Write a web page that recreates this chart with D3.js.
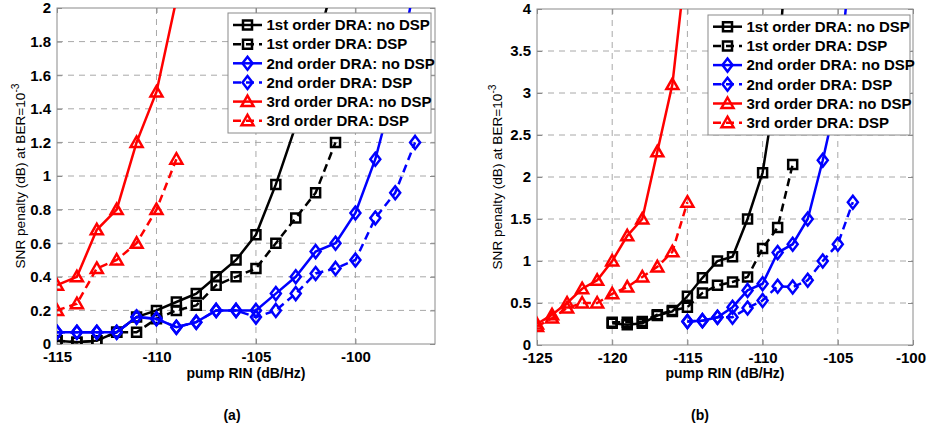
<!DOCTYPE html>
<html>
<head>
<meta charset="utf-8">
<script src="https://cdn.jsdelivr.net/npm/d3@7"></script>
<style>
  body { margin: 0; background: #fff; }
  svg { display: block; }
  text { font-family: "Liberation Sans", Arial, sans-serif; fill: #000; }
</style>
</head>
<body>
<svg id="fig" width="927" height="427"></svg>
<script>
// ---------- panel (a): pump RIN sweep, SNR penalty at BER = 1e-3 ----------
const rinA_1st = [-115, -114, -113, -112, -111, -110, -109, -108, -107, -106, -105, -104, -103, -102, -101];
const penA_1st_noDSP = [0.02, 0.01, 0.02, 0.07, 0.16, 0.2, 0.25, 0.3, 0.4, 0.5, 0.65, 0.95, 1.3, 1.75, 2.2];
const penA_1st_DSP   = [0.02, 0.01, 0.02, 0.07, 0.07, 0.15, 0.2, 0.23, 0.35, 0.4, 0.45, 0.6, 0.75, 0.9, 1.2];

const rinA_2nd = [-115, -114, -113, -112, -111, -110, -109, -108, -107, -106, -105, -104, -103, -102, -101, -100, -99, -98, -97];
const penA_2nd_noDSP = [0.07, 0.07, 0.07, 0.07, 0.16, 0.15, 0.1, 0.13, 0.2, 0.2, 0.2, 0.3, 0.4, 0.55, 0.6, 0.78, 1.1, 1.55, 2.15];
const penA_2nd_DSP   = [0.07, 0.07, 0.07, 0.07, 0.16, 0.15, 0.1, 0.13, 0.2, 0.2, 0.16, 0.2, 0.3, 0.42, 0.45, 0.5, 0.75, 0.9, 1.2];

const rinA_3rd_noDSP = [-115, -114, -113, -112, -111, -110, -109];
const penA_3rd_noDSP = [0.35, 0.4, 0.68, 0.8, 1.2, 1.5, 2.05];
const rinA_3rd_DSP = [-115, -114, -113, -112, -111, -110, -109];
const penA_3rd_DSP = [0.2, 0.24, 0.45, 0.5, 0.6, 0.8, 1.1];

const xTicksA = [-115, -110, -105, -100];
const yTicksA = [0, 0.2, 0.4, 0.6, 0.8, 1, 1.2, 1.4, 1.6, 1.8, 2];

// ---------- panel (b) ----------
const rinB_1st = [-120, -119, -118, -117, -116, -115, -114, -113, -112, -111, -110, -109, -108];
const penB_1st_noDSP = [0.26, 0.24, 0.26, 0.35, 0.4, 0.58, 0.8, 1.0, 1.05, 1.5, 2.05, 3.2, 5.7];
const penB_1st_DSP   = [0.27, 0.27, 0.28, 0.36, 0.41, 0.45, 0.62, 0.71, 0.75, 0.81, 1.15, 1.4, 2.15];

const rinB_2nd = [-115, -114, -113, -112, -111, -110, -109, -108, -107, -106, -105, -104];
const penB_2nd_noDSP = [0.28, 0.29, 0.33, 0.45, 0.65, 0.73, 1.1, 1.2, 1.5, 2.2, 3.0, 4.9];
const penB_2nd_DSP   = [0.28, 0.29, 0.33, 0.33, 0.44, 0.53, 0.7, 0.69, 0.77, 1.0, 1.2, 1.7];

const rinB_3rd = [-125, -124, -123, -122, -121, -120, -119, -118, -117, -116, -115];
const penB_3rd_noDSP = [0.25, 0.36, 0.5, 0.67, 0.77, 1.0, 1.3, 1.5, 2.3, 3.1, 4.7];
const penB_3rd_DSP   = [0.22, 0.32, 0.44, 0.5, 0.5, 0.61, 0.69, 0.81, 0.93, 1.11, 1.7];

const xTicksB = [-125, -120, -115, -110, -105, -100];
const yTicksB = [0, 0.5, 1, 1.5, 2, 2.5, 3, 3.5, 4];

const legendLabels = [
  "1st order DRA: no DSP", "1st order DRA: DSP",
  "2nd order DRA: no DSP", "2nd order DRA: DSP",
  "3rd order DRA: no DSP", "3rd order DRA: DSP"
];
const xLabel = "pump RIN (dB/Hz)";

// ---------- styling shared by all curves ----------
const seriesStyle = [
  { color: "#000000", dashed: false, marker: "square" },
  { color: "#000000", dashed: true,  marker: "square" },
  { color: "#0000ff", dashed: false, marker: "diamond" },
  { color: "#0000ff", dashed: true,  marker: "diamond" },
  { color: "#ff0000", dashed: false, marker: "triangle" },
  { color: "#ff0000", dashed: true,  marker: "triangle" }
];

const zip = (xs, ys) => xs.map((x, i) => ({ x, y: ys[i] }));

const panels = [
  {
    id: "a", caption: "(a)", captionX: 232,
    box: { left: 57, right: 435, top: 8, bottom: 344 },
    xDomain: [-115, -96], yDomain: [0, 2],
    xTicks: xTicksA, yTicks: yTicksA,
    ylabelX: 20,
    legend: { x0: 228, x1: 431, y0: 13, y1: 133, row0: 25, step: 19.15 },
    series: [
      zip(rinA_1st, penA_1st_noDSP), zip(rinA_1st, penA_1st_DSP),
      zip(rinA_2nd, penA_2nd_noDSP), zip(rinA_2nd, penA_2nd_DSP),
      zip(rinA_3rd_noDSP, penA_3rd_noDSP), zip(rinA_3rd_DSP, penA_3rd_DSP)
    ]
  },
  {
    id: "b", caption: "(b)", captionX: 700,
    box: { left: 537, right: 913, top: 9, bottom: 345 },
    xDomain: [-125, -100], yDomain: [0, 4],
    xTicks: xTicksB, yTicks: yTicksB,
    ylabelX: 497,
    legend: { x0: 708, x1: 910, y0: 15, y1: 135, row0: 26.7, step: 19.2 },
    series: [
      zip(rinB_1st, penB_1st_noDSP), zip(rinB_1st, penB_1st_DSP),
      zip(rinB_2nd, penB_2nd_noDSP), zip(rinB_2nd, penB_2nd_DSP),
      zip(rinB_3rd, penB_3rd_noDSP), zip(rinB_3rd, penB_3rd_DSP)
    ]
  }
];

const W = 927, H = 427;
const svg = d3.select("#fig");
svg.append("rect").attr("width", W).attr("height", H).attr("fill", "#fff");

const frameColor = "#8a8a8a";
const gridColor = "#a8a8a8";
const tickFont = 15;
const legendFont = 15;
const titleFont = 14;
const yTitleLength = 185;

function markerPath(kind) {
  if (kind === "square") return "M-4.5,-4.5H4.5V4.5H-4.5Z";
  if (kind === "diamond") return "M0,-6.5L5,0L0,6.5L-5,0Z";
  return "M0,-6L6,4.5H-6Z";
}

function drawMarker(g, kind, color, x, y) {
  g.append("path")
    .attr("d", markerPath(kind))
    .attr("transform", `translate(${x},${y})`)
    .attr("fill", "none")
    .attr("stroke", color)
    .attr("stroke-width", 2.5)
    .attr("stroke-linejoin", "miter");
}

panels.forEach(p => {
  const b = p.box;
  const x = d3.scaleLinear().domain(p.xDomain).range([b.left, b.right]);
  const y = d3.scaleLinear().domain(p.yDomain).range([b.bottom, b.top]);
  const g = svg.append("g").attr("class", "panel-" + p.id);

  // dashed grid
  const grid = g.append("g");
  p.xTicks.forEach(t => {
    const xx = x(t);
    if (Math.abs(xx - b.left) < 1 || Math.abs(xx - b.right) < 1) return;
    grid.append("line").attr("x1", xx).attr("x2", xx).attr("y1", b.top).attr("y2", b.bottom)
      .attr("stroke", gridColor).attr("stroke-dasharray", "6,5");
  });
  p.yTicks.forEach(t => {
    const yy = y(t);
    if (Math.abs(yy - b.top) < 1 || Math.abs(yy - b.bottom) < 1) return;
    grid.append("line").attr("x1", b.left).attr("x2", b.right).attr("y1", yy).attr("y2", yy)
      .attr("stroke", gridColor).attr("stroke-dasharray", "6,5");
  });

  // axes with inward ticks on all four sides
  const axes = [
    { gen: d3.axisBottom(x).tickValues(p.xTicks).tickFormat(d => String(d)).tickPadding(7), tr: `translate(0,${b.bottom})` },
    { gen: d3.axisTop(x).tickValues(p.xTicks).tickFormat("").tickPadding(7), tr: `translate(0,${b.top})` },
    { gen: d3.axisLeft(y).tickValues(p.yTicks).tickFormat(d => String(d)).tickPadding(6), tr: `translate(${b.left},0)` },
    { gen: d3.axisRight(y).tickValues(p.yTicks).tickFormat("").tickPadding(7), tr: `translate(${b.right},0)` }
  ];
  axes.forEach(a => {
    const ag = g.append("g").attr("transform", a.tr)
      .call(a.gen.tickSizeInner(-5).tickSizeOuter(0));
    ag.select(".domain").remove();
    ag.selectAll(".tick line").attr("stroke", frameColor);
    ag.selectAll(".tick text")
      .attr("font-size", tickFont).attr("font-weight", "bold")
      .attr("font-family", '"Liberation Sans", Arial, sans-serif')
      .attr("fill", "#000")
      .each(function () {
        // keep labels that sit at the figure edge fully inside it
        const box = this.getBoundingClientRect();
        const over = box.right - (W - 1);
        if (over > 0) d3.select(this).attr("dx", -over);
      });
  });

  // plot frame
  g.append("rect").attr("x", b.left).attr("y", b.top)
    .attr("width", b.right - b.left).attr("height", b.bottom - b.top)
    .attr("fill", "none").attr("stroke", frameColor);

  // curves, clipped to the axes box
  const clipId = "clip-" + p.id;
  svg.append("clipPath").attr("id", clipId).append("rect")
    .attr("x", b.left).attr("y", b.top).attr("width", b.right - b.left).attr("height", b.bottom - b.top);
  const plot = g.append("g").attr("clip-path", `url(#${clipId})`);
  const line = d3.line().x(d => x(d.x)).y(d => y(d.y));

  p.series.forEach((data, i) => {
    const st = seriesStyle[i];
    const sg = plot.append("g");
    sg.append("path").datum(data).attr("d", line)
      .attr("fill", "none").attr("stroke", st.color).attr("stroke-width", 2.5)
      .attr("stroke-dasharray", st.dashed ? "8,5" : null);
    data.forEach(d => drawMarker(sg, st.marker, st.color, x(d.x), y(d.y)));
  });

  // legend
  const L = p.legend;
  const lg = g.append("g");
  lg.append("rect").attr("x", L.x0).attr("y", L.y0).attr("width", L.x1 - L.x0).attr("height", L.y1 - L.y0)
    .attr("fill", "#fff").attr("stroke", frameColor);
  legendLabels.forEach((lab, i) => {
    const st = seriesStyle[i];
    const cy = L.row0 + i * L.step;
    const lx0 = L.x0 + 5, lx1 = L.x0 + 34;
    lg.append("line").attr("x1", lx0).attr("x2", lx1).attr("y1", cy).attr("y2", cy)
      .attr("stroke", st.color).attr("stroke-width", 2.5)
      .attr("stroke-dasharray", st.dashed ? "8,5" : null);
    drawMarker(lg, st.marker, st.color, (lx0 + lx1) / 2, cy);
    lg.append("text").attr("x", L.x0 + 38.5).attr("y", cy + 5.3)
      .attr("font-size", legendFont).attr("font-weight", "bold").text(lab);
  });

  // axis titles
  g.append("text").attr("x", (b.left + b.right) / 2).attr("y", 378)
    .attr("text-anchor", "middle").attr("font-size", titleFont).attr("font-weight", "bold").text(xLabel);

  const yl = g.append("text")
    .attr("transform", `translate(${p.ylabelX + 5},${(b.top + b.bottom) / 2}) rotate(-90)`)
    .attr("text-anchor", "middle").attr("font-size", titleFont);
  yl.append("tspan").text("SNR penalty (dB) at BER=10");
  const sup = yl.append("tspan").attr("font-size", titleFont * 0.75).attr("dy", -6).text("-3");
  // fit the rotated title to its span along the axis
  const natural = yl.node().getComputedTextLength();
  const fs = titleFont * yTitleLength / natural;
  yl.attr("font-size", fs);
  sup.attr("font-size", fs * 0.75).attr("dy", -fs * 0.42);

  // panel caption
  g.append("text").attr("x", p.captionX).attr("y", 420)
    .attr("text-anchor", "middle").attr("font-size", titleFont).attr("font-weight", "bold").text(p.caption);
});
</script>
</body>
</html>
